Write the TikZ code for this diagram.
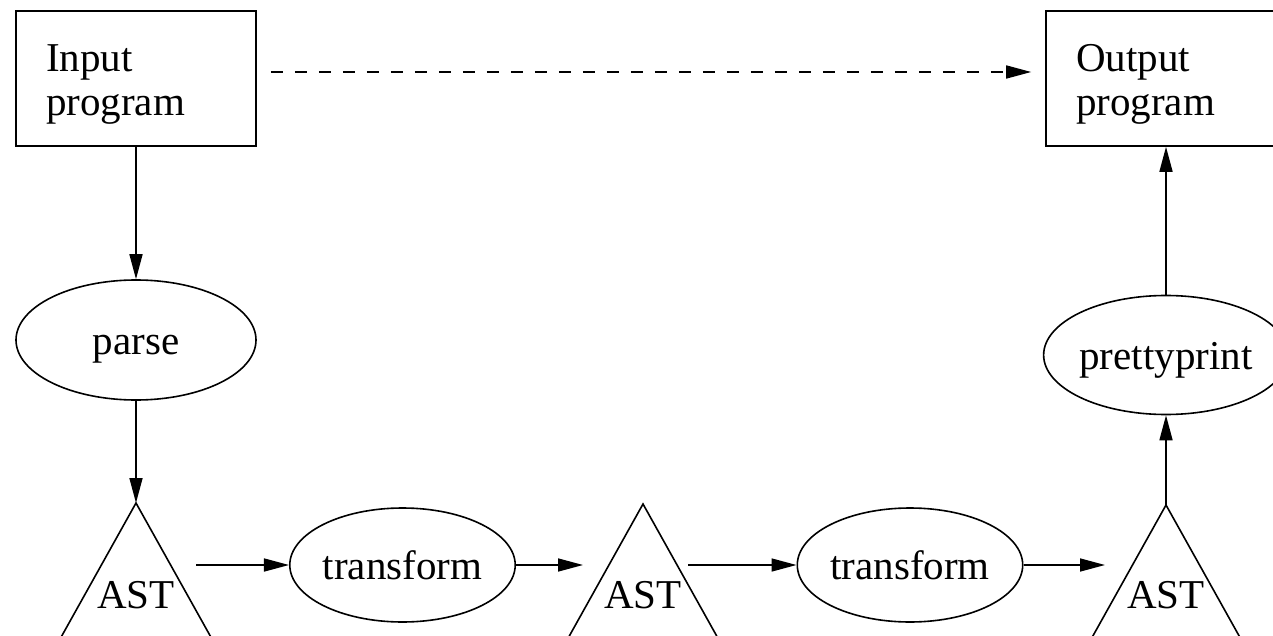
\documentclass[tikz,border=0pt]{standalone}
\usepackage{fontspec}
\setmainfont{Liberation Serif}
\usetikzlibrary{shapes.geometric,arrows.meta}

\tikzset{
  every node/.style={font=\fontsize{41}{44}\selectfont},
  progbox/.style={draw, rectangle, line width=1.6pt, inner sep=0pt,
    minimum width=240pt, minimum height=135pt,
    text width=180pt, align=left, text height=27pt, text depth=40pt},
  oval/.style={draw, ellipse, line width=1.6pt, inner sep=0pt,
    text height=28pt, text depth=0pt},
  astlabel/.style={inner sep=0pt, anchor=base},
  tree/.style={line width=1.6pt, line join=miter},
  arr/.style={line width=1.6pt, -{Triangle[length=25pt,width=13pt]}},
  dasharr/.style={arr, dash pattern=on 12.5pt off 11.5pt},
}

\begin{document}
\begin{tikzpicture}[x=1pt, y=-1pt]
  \useasboundingbox (0,0) rectangle (1273,636);
  \clip (0,0) rectangle (1273,636);

  % programs
  \node[progbox] (in)  at (136,78.5)  {Input\\program};
  \node[progbox] (out) at (1166,78.5) {Output\\program};

  % processing steps
  \node[oval, minimum width=240pt, minimum height=120pt] (parse)  at (136,340)  {parse};
  \node[oval, minimum width=213pt, minimum height=114pt] (trans1) at (402.5,565) {transform};
  \node[oval, minimum width=212pt, minimum height=114pt] (trans2) at (910,565)   {transform};
  \node[oval, minimum width=242pt, minimum height=119pt] (pretty) at (1166,355)  {prettyprint};

  % syntax trees
  \coordinate (ast1top) at (136,503);
  \coordinate (ast2top) at (643,504);
  \coordinate (ast3top) at (1166,505);
  \foreach \t in {ast1top,ast2top,ast3top}
    \draw[tree] (\t) ++(-110,197) -- (\t) -- ++(110,197);
  \node[astlabel] (ast1) at (136,608)  {AST};
  \node[astlabel] (ast2) at (643,608)  {AST};
  \node[astlabel] (ast3) at (1166,608) {AST};

  \coordinate (ast1out) at (196,565);
  \coordinate (ast2in)  at (583,565);
  \coordinate (ast2out) at (688,565);
  \coordinate (ast3in)  at (1105,565);

  % connectors
  \draw[dasharr, shorten <=14pt, shorten >=14pt]
    ([yshift=6.5pt]in.east) -- ([yshift=6.5pt]out.west);
  \draw[arr] (in.south) -- (parse.north);
  \draw[arr] (parse.south) -- (ast1top);
  \draw[arr] (ast1out) -- (trans1.west);
  \draw[arr] (trans1.east) -- (ast2in);
  \draw[arr] (ast2out) -- (trans2.west);
  \draw[arr] (trans2.east) -- (ast3in);
  \draw[arr] (ast3top) -- (pretty.south);
  \draw[arr] (pretty.north) -- (out.south);
\end{tikzpicture}
\end{document}
